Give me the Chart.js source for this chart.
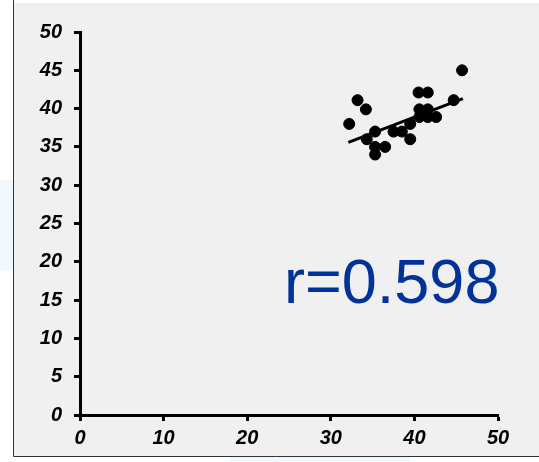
<!DOCTYPE html>
<html><head><meta charset="utf-8">
<script src="https://cdn.jsdelivr.net/npm/chart.js@4"></script>
<style>html,body{margin:0;padding:0;background:#fff;}#wrap{width:539px;height:462px;position:relative;}</style>
</head><body><div id="wrap"><canvas id="c" width="539" height="462"></canvas></div>
<script>
const xValues = [45.7,33.2,34.2,32.2,40.5,41.6,44.7,40.6,41.6,40.6,41.6,42.6,39.5,38.5,37.5,35.3,34.3,39.5,35.3,36.5,35.3];
const yValues = [45.0,41.1,39.9,38.0,42.1,42.1,41.1,39.9,39.9,38.9,38.9,38.9,38.0,37.0,37.0,37.0,36.0,36.0,35.0,35.0,34.0];
const fitX = [32.1, 45.8];
const fitY = [35.6, 41.3];
const tickValues = [0,5,10,15,20,25,30,35,40,45,50];
const xTickValues = [0,10,20,30,40,50];
const rLabel = 'r=0.598';

const points = xValues.map((x,i)=>({x:x,y:yValues[i]}));
const fitLine = fitX.map((x,i)=>({x:x,y:fitY[i]}));

const panel = {
  id:'panel',
  beforeDraw(chart){
    const ctx = chart.ctx;
    ctx.save();
    ctx.fillStyle = '#f1f8fd';
    ctx.fillRect(0,180,13,90);
    ctx.fillRect(230,457,180,5);
    ctx.fillStyle = '#f0f0f0';
    ctx.fillRect(13,3,526,454);
    ctx.strokeStyle = '#333';
    ctx.lineWidth = 1;
    ctx.beginPath();
    ctx.moveTo(13.5,0); ctx.lineTo(13.5,456.5); ctx.lineTo(539,456.5);
    ctx.stroke();
    ctx.restore();
  },
  afterDraw(chart){
    const ctx = chart.ctx;
    ctx.save();
    ctx.fillStyle = '#003399';
    ctx.font = '63px "Liberation Sans", Arial, sans-serif';
    ctx.textBaseline = 'alphabetic';
    ctx.textAlign = 'left';
    ctx.fillText(rLabel, 284, 303);
    ctx.restore();
  }
};

const tickFont = {family:'"Liberation Sans", Arial, sans-serif', size:20, weight:'bold', style:'italic'};

new Chart(document.getElementById('c'), {
  type:'scatter',
  data:{datasets:[
    {data:points, backgroundColor:'#000', borderColor:'#000', pointRadius:5.5, pointHoverRadius:5.5, order:1},
    {type:'line', data:fitLine, borderColor:'#000', borderWidth:3, pointRadius:0, fill:false, order:0}
  ]},
  options:{
    responsive:false, animation:false,
    layout:{padding:{left:0, top:32, right:41, bottom:0}},
    plugins:{legend:{display:false}, tooltip:{enabled:false}},
    scales:{
      x:{type:'linear', min:0, max:50,
        afterFit(s){s.height=47;},
        afterBuildTicks(s){s.ticks = xTickValues.map(v=>({value:v}));},
        border:{display:true, color:'#000', width:3},
        grid:{display:true, drawOnChartArea:false, drawTicks:true, tickLength:6, tickWidth:3, tickColor:'#000'},
        ticks:{color:'#000', font:tickFont, padding:5, maxRotation:0, autoSkip:false}
      },
      y:{type:'linear', min:0, max:50,
        afterFit(s){s.width=80;},
        afterBuildTicks(s){s.ticks = tickValues.map(v=>({value:v}));},
        border:{display:true, color:'#000', width:3},
        grid:{display:true, drawOnChartArea:false, drawTicks:true, tickLength:6, tickWidth:3, tickColor:'#000'},
        ticks:{color:'#000', font:tickFont, padding:12, autoSkip:false}
      }
    }
  },
  plugins:[panel]
});
</script></body></html>
